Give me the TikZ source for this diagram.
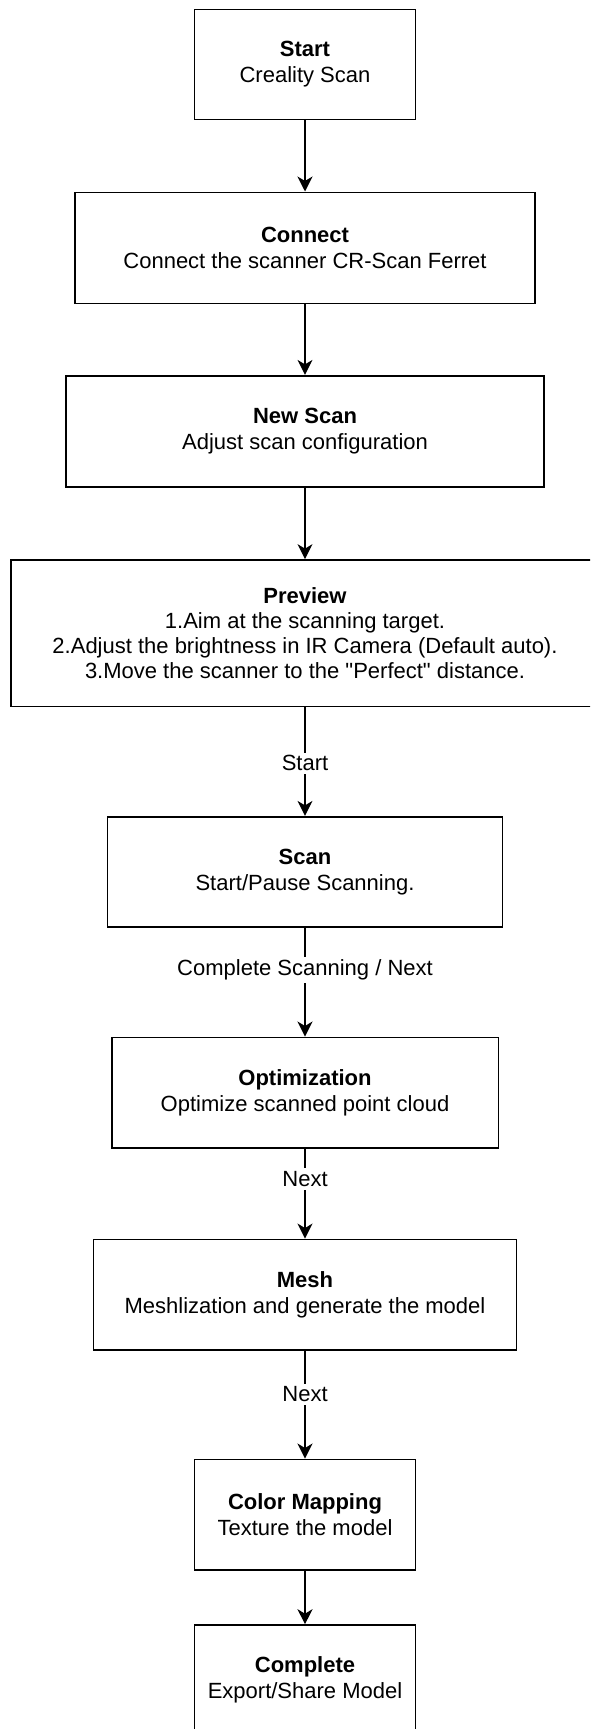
\documentclass[tikz,border=0pt]{standalone}
\usepackage{fontspec}
\setmainfont{Liberation Sans}
\usetikzlibrary{arrows.meta}

\begin{document}
\begin{tikzpicture}[x=1pt, y=-1pt, font=\fontsize{22}{26}\selectfont,
    stepbox/.style={draw=black, line width=1.6pt, align=center, inner sep=0pt},
    flow/.style={-{Stealth[length=15pt, width=15pt, inset=4.5pt]}, line width=1.3pt},
    steplabel/.style={fill=white, inner sep=3pt}]
    \useasboundingbox (0,0) rectangle (590,1729);
    \clip (0,0) rectangle (590,1729);

    % Etapes
    \node[stepbox, minimum width=221pt, minimum height=110pt] (start) at (305,64.3) {\textbf{Start}\\Creality Scan};
    \node[stepbox, minimum width=460pt, minimum height=111pt] (connect) at (305,247.8) {\textbf{Connect}\\Connect the scanner CR-Scan Ferret};
    \node[stepbox, minimum width=478pt, minimum height=111pt] (newscan) at (305,431.2) {\textbf{New Scan}\\Adjust scan configuration};
    \node[stepbox, minimum width=588pt, minimum height=146.7pt, font=\fontsize{22}{25}\selectfont] (preview) at (305,633.3) {\textbf{Preview}\\1.Aim at the scanning target.\\2.Adjust the brightness in IR Camera (Default auto).\\3.Move the scanner to the \textquotedbl Perfect\textquotedbl{} distance.};
    \node[stepbox, minimum width=395pt, minimum height=110pt] (scan) at (305,871.7) {\textbf{Scan}\\Start/Pause Scanning.};
    \node[stepbox, minimum width=386.6pt, minimum height=110.4pt] (optim) at (305,1092.5) {\textbf{Optimization}\\Optimize scanned point cloud};
    \node[stepbox, minimum width=422.8pt, minimum height=110.7pt] (mesh) at (305,1294.7) {\textbf{Mesh}\\Meshlization and generate the model};
    \node[stepbox, minimum width=221pt, minimum height=110.4pt] (colormap) at (305,1514.5) {\textbf{Color Mapping}\\Texture the model};
    \node[stepbox, minimum width=221pt, minimum height=110pt] (complete) at (305,1680) {\textbf{Complete}\\Export/Share Model};

    % Fleches
    \draw[flow] (start.south) -- (connect.north);
    \draw[flow] (connect.south) -- (newscan.north);
    \draw[flow] (newscan.south) -- (preview.north);
    \draw[flow] (preview.south) -- node[steplabel, pos=0.515] (lblstart) {Start} (scan.north);
    \draw[flow] (scan.south) -- node[steplabel, pos=0.39] (lblscan) {Complete Scanning / Next} (optim.north);
    \draw[flow] (optim.south) -- node[steplabel, pos=0.34] (lblopt) {Next} (mesh.north);
    \draw[flow] (mesh.south) -- node[steplabel, pos=0.405] (lblmesh) {Next} (colormap.north);
    \draw[flow] (colormap.south) -- (complete.north);
\end{tikzpicture}
\end{document}
